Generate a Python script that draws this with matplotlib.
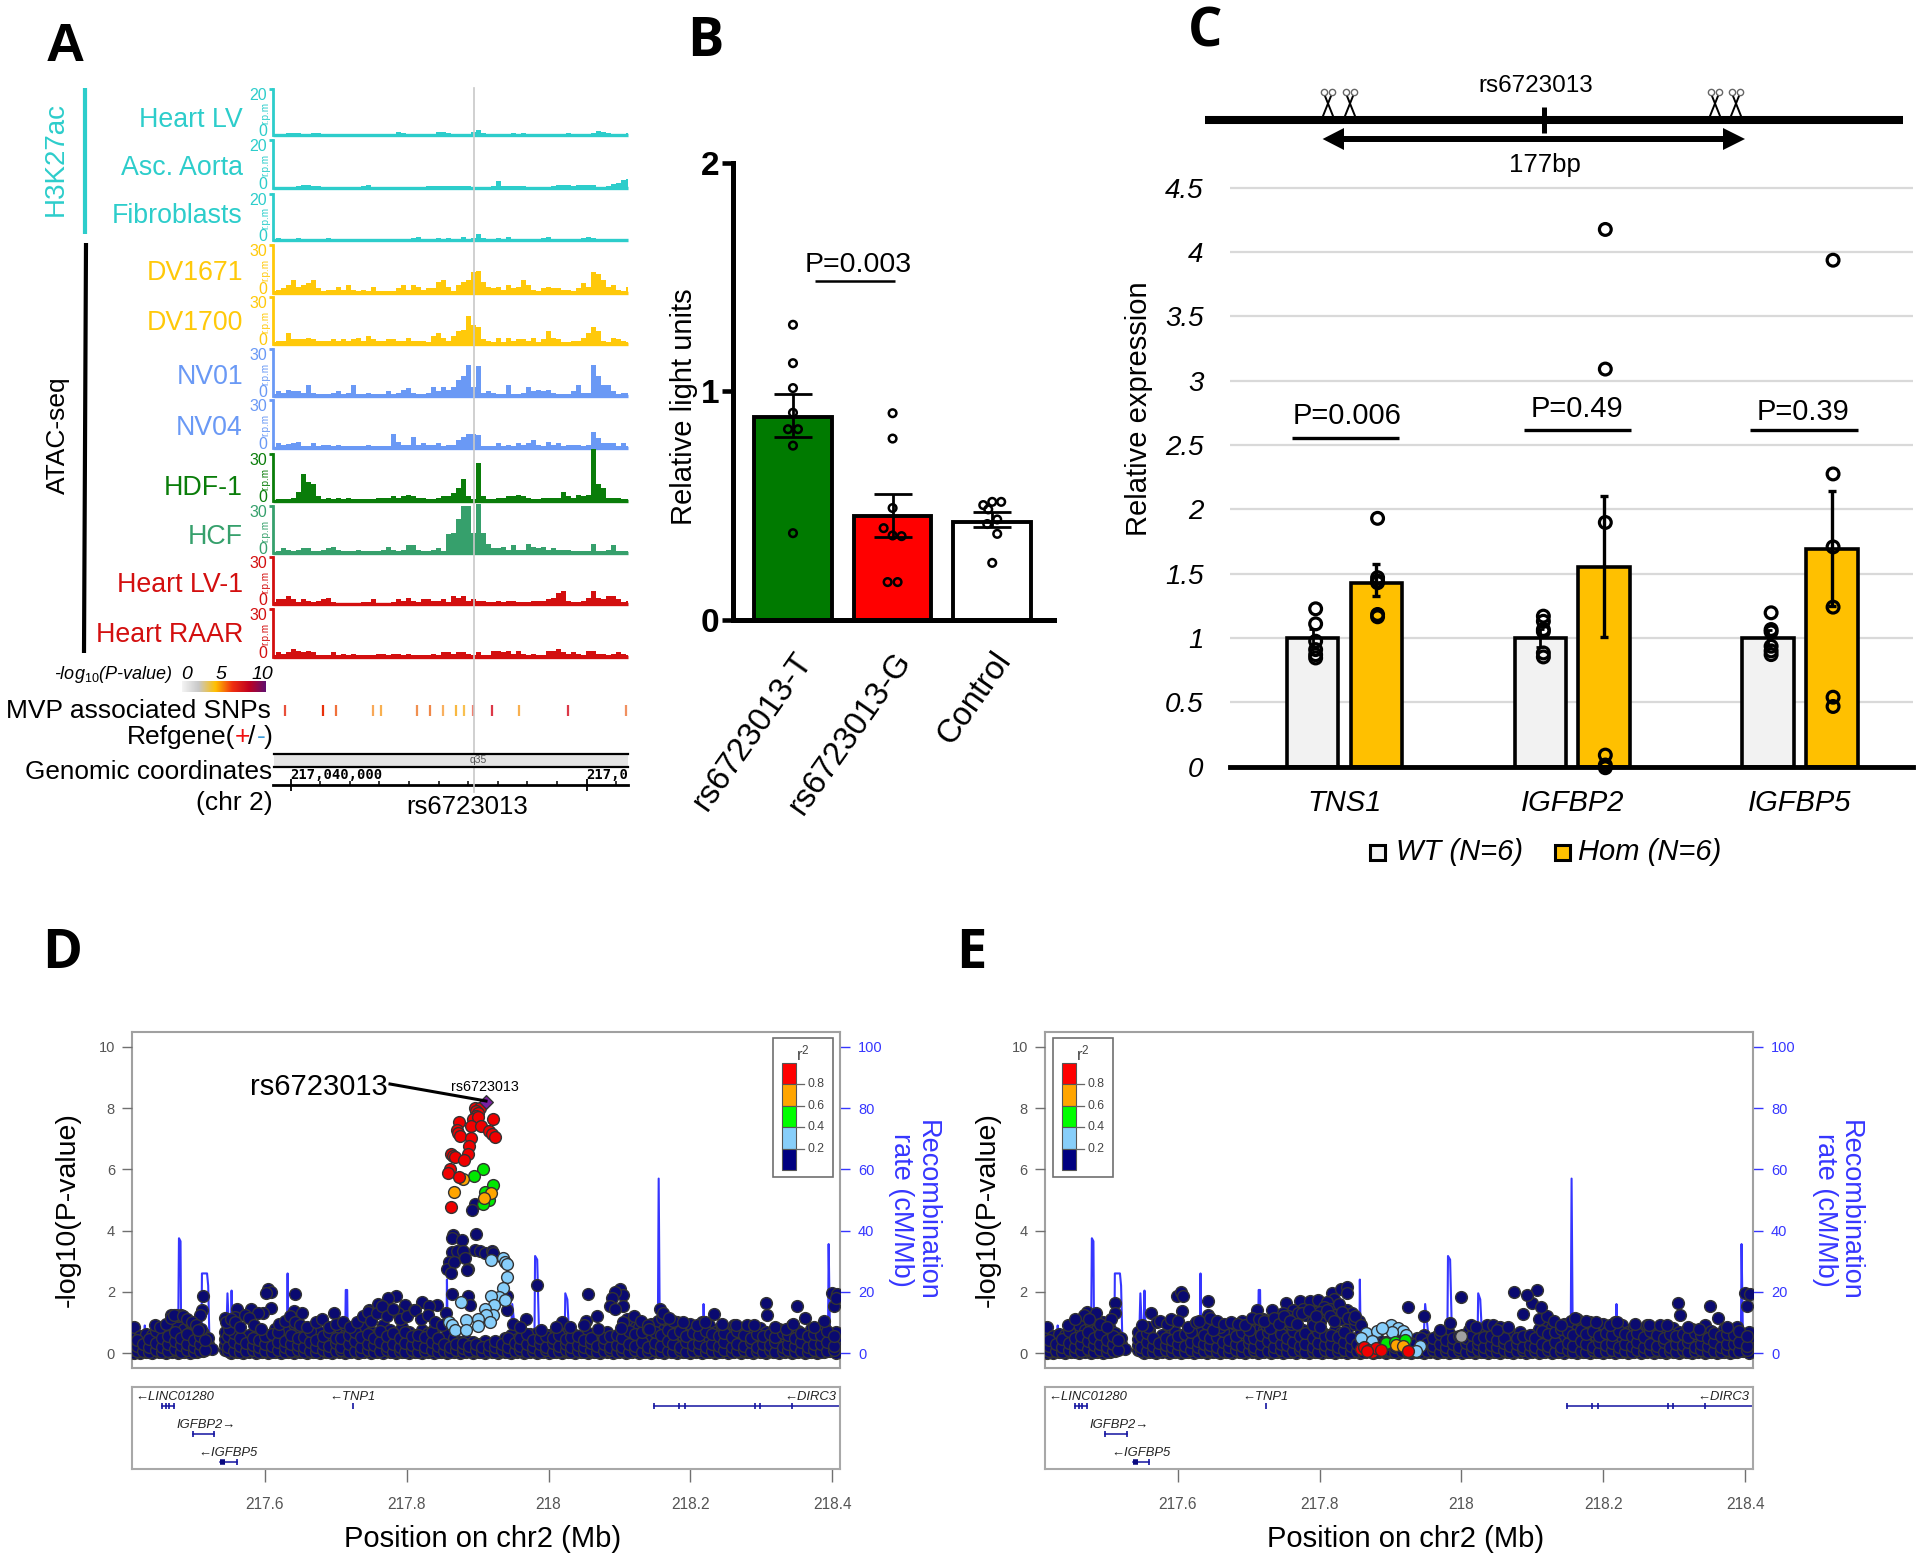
import numpy as np
import matplotlib
matplotlib.use("Agg")
import matplotlib.pyplot as plt
from matplotlib.colors import LinearSegmentedColormap
from matplotlib.patches import Polygon, Rectangle

plt.rcParams['font.family'] = ['Liberation Sans', 'DejaVu Sans']
plt.rcParams['mathtext.fontset'] = 'custom'
plt.rcParams['mathtext.rm'] = 'Liberation Sans'
plt.rcParams['mathtext.it'] = 'Liberation Sans:italic'
plt.rcParams['mathtext.default'] = 'it'

W, H = 1920, 1561

# panel A: signal per bin, r.p.m.
track_names = ["Heart LV", "Asc. Aorta", "Fibroblasts", "DV1671", "DV1700", "NV01", "NV04", "HDF-1", "HCF", "Heart LV-1", "Heart RAAR"]
track_scale = [20, 20, 20, 30, 30, 30, 30, 30, 30, 30, 30]
track_colors = ["#2DCDCB", "#2DCDCB", "#2DCDCB", "#FFC90A", "#FFC90A", "#6A99F5", "#6A99F5", "#0A7D0A", "#36A06C", "#D30F0F", "#D30F0F"]
track_top = [89, 140, 194, 245, 297, 349, 400, 454, 506, 557, 609]
track_base = [135, 188, 240, 293, 344, 396, 448, 501, 553, 604, 657]
heart_lv = [.3, .5, .6, .9, 1, .7, .3, .3, .7, .9, .5, .3, .2, .1, .3, .1, .4, .5, .3, .1, .1, .1, .4, .5, .6, 1.1, .9, .3, .1, .1, .1, .3, .5, 1.2, 1.2, .9, .2, .3, .2, .6, 1.3, 2.2, .7, .2, .1, .5, .6, .5, .7, .6, .8, .3, .1, .1, .1, .3, .4, .5, .6, .7, .3, .2, .5, .6, .9, 1.6, 1.4, .7, .5, .4, .6, 1]
asc_aorta = [.2, .3, .1, .3, .5, 1, 1.3, 1.1, .9, .7, .5, .4, .2, .1, .2, .3, .2, .6, 1, 1.2, .6, .3, .1, .1, .2, .3, .2, .1, .2, .2, .6, .8, 1, .9, 1, 1, .8, .7, .9, .7, .5, .4, .4, .2, 1, 3, 1, .9, 1, 1, 1, .5, .1, .1, .2, .1, 1, 1.2, 1.2, 1.2, 1, 1.1, 1.3, 1.2, 1.2, .6, .2, .8, 1.6, 2, 3.4, 3.6]
fibroblasts = [.2, .8, .5, .6, .3, .8, .3, .1, .1, .3, .6, .7, .2, .1, .1, .1, .1, .1, .1, .1, .3, .1, .3, .1, .1, .1, .1, .1, .7, 1.2, .5, .2, .6, .7, .4, .7, .3, .5, 1.1, .3, 1, 2.4, .7, .2, .2, .9, .3, 1.1, .2, .1, .1, .1, .1, .2, .9, 1.2, .5, .1, .3, .5, .2, .6, .9, 1.5, .9, .4, .6, .4, .5, .2, .1, .6]
dv1671 = [1, 2, 3, 5, 8, 4, 5, 6, 8, 3, 1, 2, 2, 4, 2, 5, 2, 1, 2, 1, 4, 1, 1, 1, 1, 3, 5, 2, 5, 4, 2, 3, 3, 7, 8, 4, 1, 5, 7, 8, 13, 14, 7, 4, 3, 4, 2, 5, 3, 4, 8, 5, 2, 1, 3, 4, 3, 3, 2, 2, 1, 3, 6, 4, 13, 12, 8, 4, 5, 2, 1, 4]
dv1700 = [1, 2, 2, 7, 3, 3, 3, 4, 3, 2, 2, 2, 3, 2, 3, 2, 3, 4, 2, 5, 3, 2, 2, 3, 3, 2, 2, 4, 2, 2, 2, 1, 5, 7, 4, 2, 5, 8, 9, 18, 12, 11, 3, 2, 1, 4, 1, 4, 2, 3, 3, 2, 4, 1, 3, 8, 4, 3, 1, 1, 2, 2, 4, 7, 11, 8, 2, 1, 4, 3, 2, 1]
nv01 = [1, 3, 2, 4, 3, 3, 2, 7, 2, 1, 1, 1, 2, 3, 1, 2, 7, 1, 1, 2, 1, 1, 1, 3, 1, 2, 4, 5, 2, 1, 1, 2, 6, 3, 6, 4, 6, 10, 13, 20, 6, 19, 2, 3, 2, 1, 1, 7, 1, 1, 2, 6, 3, 4, 3, 4, 2, 1, 1, 1, 3, 7, 2, 2, 20, 13, 7, 7, 3, 1, 2, 2]
nv04 = [.5, 3, 2, 2.5, 3, 4, 1, 1, 3, 1, 2, 2, 1, 2, 1, 1, 1, 1, 1, 2, 1, 1, 1, 1, 9, 4, 2, 2, 7, 2, 3, 2, 2, 3, 1, 2, 2, 5, 7, 9, 9, 8, 1, 1, 1, 3, 1, 2, 1, 3, 2, 3, 5, 2, 1, 4, 2, 3, 1, 2, 2, 2, 1, 2, 10, 6, 3, 3, 3, 1, 3, 1]
hdf1 = [.7, 1.5, 1, 1, 2, 6, 17, 12, 11, 3, 1, 2, 1, 2, 1, 2, 1, 1, 1, 1, 1, 2, 2, 2, 3, 2, 3, 4, 3, 2, 2, 1, 1, 2, 3, 3, 5, 8, 14, 3, 1, 24, 3, 1, 1, 2, 2, 3, 3, 4, 3, 2, 1, 1, 2, 2, 2, 2, 6, 3, 2, 4, 3, 4, 33, 11, 8, 2, 2, 2, 1, 1]
hcf = [.5, 1, 3, 2, 1, 2, 3, 3, 1, 1, 2, 3, 4, 2, 1, 1, 1, 2, 1, 1, 1, 1, 2, 4, 2, 1, 2, 5, 5, 2, 1, 1, 2, 3, 1, 12, 13, 22, 30, 30, 13, 31, 13, 6, 3, 3, 4, 2, 5, 2, 2, 6, 4, 3, 4, 2, 3, 2, 2, 2, 1, 1, 1, 1, 6, 1, 1, 2, 5, 1, 1, 1]
heart_lv1 = [1, 3, 3, 5, 3, 1, 3, 2, 1, 2, 3, 4, 1, .5, .5, .5, .5, .5, 1, 1, 3, .5, .5, .5, 1, 3, 2, 4, 2, 1, 3, 3, 2, 2, 3, 1, 5, 4, 5, 2, 3, 2, 2, 1, 1, 2, 1, 2, 2, 1, 1, 1, 2, 2, 2, 3, 4, 7, 8, 2, 1, 1, 2, 4, 8, 4, 3, 5, 5, 3, 1, 2]
heart_raar = [1, 3, 2, 3, 5, 4, 3, 4, 3, 1, 1, 1, 3, 1, 2, 1, 2, 1, 1, 1, 1, 2, 2, 1, 2, 2, 1, 2, 1, 1, 1, 1, 2, 1, 3, 3, 2, 3, 3, 2, 1, 3, 1, 1, 4, 4, 3, 4, 2, 4, 2, 1, 2, 1, 1, 4, 4, 5, 3, 2, 3, 2, 1, 4, 4, 2, 2, 1, 2, 3, 2, 1]
tracks = [heart_lv, asc_aorta, fibroblasts, dv1671, dv1700, nv01, nv04, hdf1, hcf, heart_lv1, heart_raar]
track_label_y = [120, 168, 216, 273, 323, 377, 428, 488, 537, 585, 635]

# kb after 217,040,000
view_kb = (-0.594, 11.395)
snp_kb = [-0.2, 1.1, 1.52, 2.8, 3.04, 4.28, 4.72, 5.15, 5.6, 5.84, 6.17, 6.8, 7.7, 9.38, 11.32]
snp_colors = ["#E8503A", "#E8300A", "#F0703A", "#F8A858", "#F8B050", "#F09050", "#F08848", "#F8B060", "#F8B840", "#F8C050", "#F08070", "#DC3848", "#F8B050", "#DC3848", "#F09060"]
major_kb = [0, 10]
minor_kb = [1, 2, 3, 4, 5, 6, 7, 8, 9, 11]

# panel B
b_names = ["rs6723013-T", "rs6723013-G", "Control"]
b_means = [0.89, 0.453, 0.431]
b_err_lo = [0.80, 0.365, 0.406]
b_err_hi = [0.99, 0.552, 0.472]
b_colors = ["#007A00", "#FF0000", "#FFFFFF"]
b_pts_x = [[0, 0, 0, 0, -.05, .05, 0, 0], [0, 0, 0, -.09, 0, .09, -.05, .05], [0, .09, -.09, -.04, .05, -.05, .05, 0]]
b_pts_y = [[1.292, 1.124, 1.015, .907, .835, .835, .763, .38], [.905, .794, .49, .402, .37, .367, .166, .166], [.517, .517, .503, .484, .44, .42, .377, .25]]

# panel C
c_genes = ["TNS1", "IGFBP2", "IGFBP5"]
c_yticks = [0, 0.5, 1, 1.5, 2, 2.5, 3, 3.5, 4, 4.5]
c_yticklabels = ["0", "0.5", "1", "1.5", "2", "2.5", "3", "3.5", "4", "4.5"]
c_wt = [1, 1, 1]
c_hom = [1.43, 1.55, 1.695]
c_wt_lo = [.93, .93, .94]
c_wt_hi = [1.07, 1.07, 1.06]
c_hom_lo = [1.326, 1.009, 1.25]
c_hom_hi = [1.573, 2.10, 2.145]
c_wt_pts = [[1.227, 1.11, .975, .91, .87, .845], [1.17, 1.13, 1.066, 1.05, .884, .853], [1.196, 1.066, 1.048, .936, .9, .871]]
c_hom_pts = [[1.93, 1.469, 1.443, 1.43, 1.183, 1.165], [4.175, 3.09, 1.898, .09, .013, -.008], [3.936, 2.275, 1.708, 1.24, .54, .468]]
c_pvals = ["P=0.006", "P=0.49", "P=0.39"]

# panels D and E: recombination rate
recomb_x = [217.412, 217.413, 217.4295, 217.4306, 217.432, 217.4775, 217.4788, 217.481, 217.482, 217.5105, 217.5112, 217.5184, 217.520, 217.522, 217.525, 217.545, 217.5472, 217.549, 217.552, 217.553, 217.555, 217.558, 217.631, 217.632, 217.633, 217.713, 217.714, 217.716, 217.717, 217.856, 217.8567, 217.858, 217.946, 217.9488, 217.955, 217.980, 217.981, 217.984, 217.987, 218.0225, 218.0236, 218.0265, 218.03, 218.154, 218.1553, 218.157, 218.218, 218.2186, 218.22, 218.394, 218.395, 218.397, 218.411]
recomb_y = [10, 1, 1, 9, 1, 1, 37.5, 36.5, 1, 1, 26, 26, 22, 2, 1, .5, 19.5, 9, 9, 20.4, 3, .5, 1, 26, 2, 1, 20.6, 20.6, 1, 1, 24, 2, 1, 16, 2, 1, 31.7, 30.5, 2, 1, 19.5, 17.5, 1, 1, 57, 2, 1, 16, 1, 1, 35.6, 4, 1]
rate_ticks = [0, 20, 40, 60, 80, 100]

# low cloud, both panels, one list of -log10(p) for each x
cloud_x = [217.415, 217.424, 217.432, 217.441, 217.45, 217.46, 217.469, 217.477, 217.486, 217.495, 217.504, 217.512, 217.52, 217.526, 217.544, 217.552, 217.56, 217.569, 217.578, 217.587, 217.596, 217.605, 217.614, 217.623, 217.632, 217.641, 217.65, 217.659, 217.668, 217.677, 217.686, 217.695, 217.704, 217.713, 217.722, 217.731, 217.74, 217.749, 217.758, 217.767, 217.776, 217.785, 217.794, 217.803, 217.812, 217.821, 217.83, 217.839, 217.848, 217.857, 217.866, 217.875, 217.884, 217.893, 217.902, 217.911, 217.92, 217.929, 217.938, 217.947, 217.956, 217.965, 217.974, 217.983, 217.992, 218.001, 218.01, 218.019, 218.028, 218.037, 218.046, 218.055, 218.064, 218.073, 218.082, 218.091, 218.1, 218.109, 218.118, 218.127, 218.136, 218.145, 218.154, 218.163, 218.172, 218.181, 218.19, 218.199, 218.208, 218.217, 218.226, 218.235, 218.244, 218.253, 218.262, 218.271, 218.28, 218.289, 218.298, 218.307, 218.316, 218.325, 218.334, 218.343, 218.352, 218.361, 218.37, 218.379, 218.388, 218.397, 218.406]
cloud_y = [
    [0, .1, .25, .4, .6, .85], [0, .05, .2, .35, .55], [.02, .15, .3, .5, .62], [0, .12, .25, .4, .58], [.03, .1, .3, .45, .7], [0, .15, .3, .5, .62, .9], [.02, .1, .25, .42, .75], [0, .08, .2, .4, .6, .95, 1.2], [.03, .18, .35, .55, .8], [0, .1, .25, .45, .7, 1],
    [.02, .12, .3, .5, .78], [.05, .2, .35, .5, .65], [.15, .3, .5], [.12], [.1, .25, .45, .7], [0, .12, .3, .5, .8], [.03, .2, .35, .6, .75], [0, .1, .28, .45], [.02, .18, .4, .6], [0, .1, .22, .4, .55], [.03, .15, .35, .5, .7], [0, .12, .25, .45, .6], [.02, .1, .3, .5, .8], [0, .15, .32, .55, .9], [.03, .12, .25, .45, .75], [0, .08, .2, .35, .6, .95],
    [.02, .15, .3, .5, .72], [0, .1, .25, .42, .62], [.03, .18, .33, .55, .8], [0, .12, .28, .48, .68], [.02, .1, .22, .4, .6], [0, .15, .35, .55, .85], [.03, .12, .25, .45, .7], [0, .08, .2, .38, .6, .9], [.02, .15, .3, .52, .78], [0, .1, .25, .42, .65], [.03, .18, .36, .55, .82], [0, .12, .28, .46, .7], [.02, .1, .22, .4, .62], [0, .15, .33, .55, .9],
    [.03, .12, .27, .48, .75], [0, .08, .2, .38, .6], [.02, .16, .32, .52, .85], [0, .1, .25, .44, .68], [.03, .18, .36, .58], [0, .12, .28, .46, .75], [.02, .1, .24, .42, .66], [0, .14, .32, .5, .8], [.03, .11, .26, .46], [0, .08, .22, .4, .62], [.02, .16, .3, .5], [0, .1, .2, .35], [.03, .13, .26, .42], [0, .08, .2, .36], [.02, .15, .28], [0, .1, .22, .38], [.03, .12, .25], [0, .08, .2, .34], [.02, .15, .3, .5], [0, .1, .25, .4, .6],
    [.03, .12, .28, .45], [0, .08, .2, .38, .55], [.02, .14, .3, .5, .62], [0, .1, .24, .42, .65], [.03, .18, .35, .52], [0, .1, .22, .4, .6], [.02, .12, .3, .48, .75], [0, .08, .2, .36, .55], [.03, .15, .3, .5, .7], [0, .1, .25, .42, .6], [.02, .12, .28, .46], [0, .08, .22, .4, .65], [.03, .14, .32, .52], [0, .1, .24, .38, .6], [.02, .16, .3, .45, .7], [0, .12, .25, .42], [.03, .1, .22, .4, .58], [0, .14, .3, .5, .8], [.02, .1, .26, .45, .7, 1], [0, .12, .28, .48, .85],
    [.03, .1, .24, .42, .9], [0, .14, .32, .55, .95], [.02, .1, .25, .45, .75, 1.05], [0, .12, .3, .5, .8, 1.1], [.03, .15, .35, .6, .9], [0, .1, .25, .45, .7, 1.02], [.02, .12, .3, .55, .85], [0, .08, .22, .4, .65, .95], [.03, .14, .32, .52, .8], [0, .1, .24, .42, .72, 1], [.02, .12, .3, .5, .9], [0, .08, .22, .4, .7], [.03, .15, .35, .55, .85], [0, .1, .25, .46, .78], [.02, .12, .3, .5, .9], [0, .08, .2, .38, .66], [.03, .14, .32, .55, .88], [0, .1, .24, .44, .7], [.02, .12, .3, .5, .82], [0, .08, .22, .4, .68],
    [.03, .15, .33, .55], [0, .1, .24, .42, .78], [.02, .12, .3, .5, .7], [0, .08, .2, .38, .9], [.03, .14, .3, .5, .72], [0, .1, .25, .44, .6], [.02, .12, .3, .5, .78], [0, .08, .22, .42, .72], [.03, .15, .35, .55, .85], [.05, .2, .4, .62], [0, .15, .3, .5, .68]]

# second pass of the cloud, points that sit between the first columns
cloud2_x = [217.419, 217.428, 217.437, 217.446, 217.455, 217.464, 217.473, 217.482, 217.49, 217.5, 217.508, 217.516, 217.548, 217.556, 217.565, 217.574, 217.583, 217.592, 217.6, 217.61, 217.618, 217.628, 217.637, 217.646, 217.655, 217.664, 217.672, 217.682, 217.69, 217.7, 217.708, 217.718, 217.727, 217.736, 217.745, 217.754, 217.762, 217.772, 217.78, 217.79, 217.798, 217.808, 217.816, 217.826, 217.835, 217.844, 217.852, 217.861, 217.87, 217.88, 217.888, 217.898, 217.906, 217.916, 217.925, 217.934, 217.943, 217.952, 217.96, 217.97, 217.978, 217.988, 217.996, 218.006, 218.015, 218.024, 218.032, 218.042, 218.05, 218.06, 218.068, 218.078, 218.087, 218.096, 218.104, 218.114, 218.122, 218.132, 218.14, 218.15, 218.158, 218.168, 218.176, 218.186, 218.194, 218.204, 218.212, 218.222, 218.23, 218.24, 218.248, 218.258, 218.266, 218.276, 218.285, 218.294, 218.302, 218.312, 218.32, 218.33, 218.338, 218.348, 218.356, 218.366, 218.374, 218.384, 218.392, 218.402]
cloud2_y = [
    [.05, .22, .42], [.08, .3], [.03, .18, .45], [.1, .33, .72], [.02, .2, .48], [.06, .28, .55], [.12, .38, .68], [.04, .25, .5], [.1, .3, .62], [.02, .2, .42], [.08, .28, .55], [.1, .42], [.05, .2, .55], [.08, .35, .65], [.02, .24, .5], [.06, .32], [.1, .26, .5], [.03, .18, .42], [.07, .28, .55], [.04, .22, .62], [.1, .36, .68], [.02, .2, .4], [.06, .3, .58], [.1, .26, .48], [.03, .18, .52], [.07, .35, .72], [.04, .2, .44], [.09, .3, .55], [.02, .24, .7], [.06, .33, .5], [.1, .2, .48], [.03, .28, .6], [.07, .38, .7], [.04, .18, .52], [.09, .3, .62], [.02, .26, .48], [.06, .35, .72], [.1, .22, .55], [.03, .3, .65], [.07, .2, .48], [.04, .33, .7], [.09, .25, .55], [.02, .3, .6], [.06, .2, .52], [.1, .36, .7], [.03, .22, .5], [.07, .3], [.04, .18], [.09, .28], [.02, .16, .34], [.06, .24], [.1, .3], [.03, .18], [.07, .26], [.04, .18, .4], [.09, .3], [.02, .2, .48], [.06, .33], [.1, .24, .5], [.03, .3, .62], [.07, .18, .42], [.04, .28, .5], [.09, .2, .56], [.02, .33, .48], [.06, .24, .58], [.1, .3, .45], [.03, .18, .52], [.07, .26, .55], [.04, .2, .42], [.09, .33, .5], [.02, .24], [.06, .3, .48], [.1, .2, .55], [.03, .26, .6], [.07, .18, .5], [.04, .3, .72], [.09, .24, .62], [.02, .36, .68], [.06, .2, .8], [.1, .33, .7], [.03, .24, .58], [.07, .4, .75], [.04, .28, .62], [.09, .2, .72], [.02, .36, .55], [.06, .26, .66], [.1, .33, .58], [.03, .2, .72], [.07, .3, .62], [.04, .24, .55], [.09, .36, .66], [.02, .2, .52], [.06, .3, .72], [.1, .24, .6], [.03, .36, .5], [.07, .2, .62], [.04, .3, .55], [.09, .26, .62], [.02, .36, .52], [.06, .2, .66], [.1, .3, .58], [.03, .24, .48], [.07, .36, .66], [.04, .2, .55], [.09, .3, .62], [.02, .28, .58], [.06, .36, .72], [.1, .24, .55]]

# right part of the cloud's upper edge, both panels
cloud_hi_x = [218.11, 218.12, 218.13, 218.14, 218.16, 218.175, 218.19, 218.21, 218.22, 218.245, 218.265, 218.28, 218.29, 218.32, 218.335, 218.375]
cloud_hi_y = [1.1, 1.2, 1.05, .9, 1.15, 1.05, 1.0, .9, 1.0, .95, .9, .9, .9, .85, .8, .85]

# points above the cloud, panel D
d_navy_x = [217.896, 217.892, 217.865, 217.864, 217.878, 217.898, 217.864, 217.871, 217.880, 217.896, 217.903, 217.911, 217.920, 217.921, 217.860, 217.857, 217.867, 217.882, 217.887, 217.863, 217.885, 217.864, 217.887, 217.889, 217.942, 217.941, 217.856, 217.983, 218.055, 218.101, 218.105, 218.093, 218.090, 218.105, 218.087, 218.094, 218.069, 218.105, 218.019, 218.053, 218.142, 218.102, 218.306, 218.308, 218.351, 218.362, 218.345, 218.400, 218.407, 218.402, 218.406, 218.388, 218.234, 218.157, 218.162, 218.170, 217.968, 217.605, 217.608, 217.601, 217.643, 217.512, 217.511, 217.508, 217.561, 217.544, 217.558, 217.475, 217.468, 217.482, 217.580, 217.608, 217.597, 217.590, 217.572, 217.641, 217.652, 217.698, 217.747, 217.798, 217.785, 217.773, 217.760, 217.821, 217.842, 217.831, 217.810, 217.788,
            217.445, 217.452, 217.46, 217.468, 217.472, 217.484, 217.49, 217.497, 217.503, 217.51, 217.505, 217.55, 217.545, 217.552, 217.558, 217.565, 217.578, 217.585, 217.595, 217.62, 217.628, 217.635, 217.642, 217.65, 217.66, 217.672, 217.68, 217.69, 217.70, 217.71, 217.72, 217.73, 217.738, 217.745, 217.75, 217.758, 217.765, 217.772, 217.78, 217.79, 217.80, 217.812, 217.82, 217.83, 217.84, 217.85, 217.95, 217.96, 217.99, 218.01, 218.03, 218.05, 218.07]
d_navy_y = [4.87, 4.66, 3.85, 3.75, 3.7, 3.88, 3.3, 3.33, 3.33, 3.36, 3.34, 3.28, 3.34, 3.28, 2.98, 2.76, 2.98, 3.1, 2.76, 2.6, 2.71, 1.92, 1.87, 1.57, 1.87, 1.41, 1.3, 2.22, 1.93, 2.08, 1.9, 2.0, 1.79, 1.52, 1.54, 1.43, 1.21, 1, 1, 1.03, .78, .81, 1.63, 1.25, 1.52, 1.16, .94, 1.95, 1.93, 1.55, 1.79, 1.06, 1.27, 1.43, 1.3, 1.14, 1.12, 2.08, 2.0, 1.95, 1.93, 1.87, 1.41, 1.25, 1.43, 1.14, 1.19, 1.25, 1.24, 1.25, 1.43, 1.46, 1.32, 1.3, 1.25, 1.36, 1.3, 1.32, 1.39, 1.57, 1.87, 1.79, 1.6, 1.66, 1.57, 1.52, 1.41, 1.3,
            .9, .85, .95, 1.15, 1.25, 1.2, 1.1, 1.0, .9, .8, .75, .8, 1.0, 1.1, 1.0, .85, 1.15, .9, .8, .95, 1.05, 1.2, 1.0, .9, .85, 1.0, 1.1, .85, .95, 1.0, .85, 1.0, 1.2, 1.35, 1.05, 1.3, 1.55, 1.2, 1.45, 1.1, 1.2, 1.4, 1.1, 1.25, 1.0, .9, .95, .85, .75, .85, .85, .9, .8]
d_blue_x = [217.919, 217.936, 217.938, 217.941, 217.942, 217.936, 217.930, 217.919, 217.938, 217.923, 217.911, 217.877, 217.921, 217.912, 217.901, 217.917, 217.859, 217.864, 217.883, 217.900, 217.868, 217.883]
d_blue_y = [3.05, 3.1, 2.98, 2.9, 2.5, 2.12, 1.84, 1.87, 1.73, 1.57, 1.44, 1.66, 1.25, 1.25, 1.12, 1, 1, .92, 1.08, .87, .76, .76]
d_green_x = [217.907, 217.895, 217.921, 217.911, 217.916, 217.908]
d_green_y = [6, 5.8, 5.5, 5.27, 5, 4.87]
d_orange_x = [217.880, 217.867, 217.919, 217.909]
d_orange_y = [5.68, 5.27, 5.22, 5.08]
d_red_x = [217.896, 217.903, 217.898, 217.901, 217.898, 217.893, 217.901, 217.921, 217.874, 217.891, 217.905, 217.916, 217.871, 217.873, 217.920, 217.924, 217.875, 217.890, 217.888, 217.887, 217.862, 217.865, 217.868, 217.881, 217.861, 217.858, 217.874, 217.862]
d_red_y = [8, 8, 7.9, 7.85, 7.75, 7.64, 7.72, 7.66, 7.56, 7.42, 7.41, 7.26, 7.28, 7.2, 7.15, 7.07, 7.1, 7.04, 6.75, 6.5, 6.5, 6.45, 6.4, 6.32, 6, 5.87, 5.74, 4.78]
d_lead_x = [217.912]
d_lead_y = [8.2]

# points above the cloud, panel E
e_navy_x = [217.512, 217.5116, 217.5055, 217.4726, 217.4844, 217.468, 217.562, 217.5586, 217.5995, 217.605, 217.608, 217.6066, 217.643, 217.642, 217.712, 217.7335, 217.752, 217.773, 217.786, 217.797, 217.817, 217.83, 217.838, 217.839, 217.838, 217.794, 217.776, 217.762, 217.748, 217.82, 217.811, 217.806, 217.825, 217.856, 217.925, 217.947, 218.0, 217.984, 218.013, 218.036, 218.074, 218.087, 218.1, 218.045, 218.055, 218.107, 218.112, 218.092, 218.306, 218.308, 218.351, 218.362, 218.400, 218.407, 218.402, 217.68, 217.69, 217.70, 217.72, 217.725, 217.74, 217.745, 217.755, 217.765, 217.77, 217.78, 217.79, 217.80, 217.805, 217.815, 217.822, 217.83, 217.845, 217.85, 217.70, 217.73, 217.76, 217.80, 217.66, 217.65,
            217.445, 217.455, 217.475, 217.49, 217.50, 217.55, 217.57, 217.575, 217.585, 217.59, 217.60, 217.615, 217.625, 217.63, 217.645, 217.655, 217.665, 217.675, 217.685, 217.695, 217.705, 217.715, 217.722, 217.735, 217.742, 217.75, 217.758, 217.768, 217.775, 217.785, 217.79, 217.795, 217.80, 217.81, 217.815, 217.82, 217.828, 217.832, 217.84, 217.848, 217.85, 217.858, 217.97, 218.02, 218.05, 218.065]
e_navy_y = [1.62, 1.3, 1.1, 1.35, 1.3, 1.24, 1.3, .86, 1.86, 2.0, 1.86, 1.38, 1.7, 1.24, 1.4, 1.4, 1.62, 1.7, 1.7, 1.73, 1.95, 2.08, 2.16, 1.95, 1.4, 1.35, 1.44, 1.4, 1.3, 1.78, 1.68, 1.5, 1.24, 1.05, 1.51, 1.21, 1.82, .97, .92, .92, 2.0, 1.26, 1.64, .9, .85, 2.05, 1.5, 1.9, 1.63, 1.25, 1.52, 1.16, 1.95, 1.93, 1.55, .95, 1.05, .95, 1.1, .9, 1.05, 1.15, 1.2, 1.1, 1.3, 1.25, 1.05, 1.35, 1.2, 1.45, 1.25, 1.1, 1.3, .95, .75, .82, .95, 1.0, .85, .75,
            .9, 1.1, 1.1, .95, .85, .9, 1.0, 1.05, .95, 1.1, 1.05, .85, 1.0, 1.05, 1.15, 1.05, .95, 1.0, .95, .9, 1.15, 1.1, 1.05, 1.15, .95, 1.2, 1.05, .95, 1.3, 1.4, .9, 1.2, .85, 1.4, 1.2, 1.05, 1.6, 1.35, 1.15, 1.1, 1.2, .9, .75, .85, .75, .85]
e_blue_x = [217.865, 217.8815, 217.858, 217.9, 217.91, 217.917, 217.9215, 217.8745, 217.9027, 217.9417, 217.9356, 217.8886]
e_blue_y = [.67, .73, .49, .92, .81, .73, .59, .38, .7, .24, .05, .82]
e_green_x = [217.893, 217.906, 217.9205]
e_green_y = [.32, .36, .43]
e_orange_x = [217.908, 217.918]
e_orange_y = [.27, .24]
e_red_x = [217.858, 217.8627, 217.87, 217.8745, 217.879, 217.887, 217.924, 217.8675]
e_red_y = [.13, .2, .1, .02, .16, .09, .05, .05]
e_gray_x = [218.0]
e_gray_y = [.57]

# genes
gene_lines = [(217.455, 217.472, 1), (217.7245, 217.7245, 1), (218.149, 218.411, 1), (217.498, 217.528, 2), (217.5367, 217.56, 3)]
gene_exons_x = [217.455, 217.46, 217.465, 217.472, 217.7245, 218.149, 218.184, 218.192, 218.2906, 218.298, 218.343, 217.498, 217.528, 217.56]
gene_exons_row = [1, 1, 1, 1, 1, 1, 1, 1, 1, 1, 1, 2, 2, 3]
gene_names = ["\u2190LINC01280", "\u2190TNP1", "\u2190DIRC3", "IGFBP2\u2192", "\u2190IGFBP5"]
gene_name_x = [217.417, 217.691, 218.406, 217.475, 217.506]
gene_name_row = [1, 1, 1, 2, 3]
gene_name_ha = ["left", "left", "right", "left", "left"]
mb_ticks = [217.6, 217.8, 218.0, 218.2, 218.4]
mb_labels = ["217.6", "217.8", "218", "218.2", "218.4"]


def px_axes(x0, y0, x1, y1, **kw):
    return fig.add_axes([x0 / W, 1 - y1 / H, (x1 - x0) / W, (y1 - y0) / H], **kw)


fig = plt.figure(figsize=(W / 100, H / 100), dpi=100)
ov = px_axes(0, 0, W, H, zorder=20)
ov.set_xlim(0, W)
ov.set_ylim(H, 0)
ov.axis("off")
ov.patch.set_alpha(0)

for label, x, y, fam in [("A", 65, 47, "Liberation Sans"), ("B", 705, 42, "Open Sans"), ("C", 1205, 32, "Open Sans"), ("D", 62, 954, "Open Sans"), ("E", 971, 954, "Open Sans")]:
    ov.text(x, y, label, fontsize=39, fontweight="bold", ha="center", va="center", family=fam)

# ---- panel A
for i, vals in enumerate(tracks):
    ax = px_axes(273, track_top[i], 628, track_base[i])
    c = track_colors[i]
    x = np.linspace(view_kb[0], view_kb[1], len(vals))
    ax.fill_between(x, vals, 0, step="mid", color=c, lw=0, clip_on=False)
    ax.plot(view_kb, [0, 0], color=c, lw=2.4, solid_capstyle="butt", clip_on=False)
    ax.set_xlim(view_kb)
    ax.set_ylim(0, track_scale[i])
    for s in ["top", "right", "bottom"]:
        ax.spines[s].set_visible(False)
    ax.spines["left"].set_color(c)
    ax.spines["left"].set_linewidth(2)
    ax.set_xticks([])
    ax.set_yticks([track_scale[i]])
    ax.set_yticklabels([])
    ax.tick_params(axis="y", length=3, width=2, color=c)
    ax.patch.set_alpha(0)
    ov.text(243, track_label_y[i], track_names[i], color=c, fontsize=19.3, ha="right", va="center")
    ov.text(267, track_top[i] + 6, str(track_scale[i]), color=c, fontsize=11.5, ha="right", va="center")
    ov.text(267, track_base[i] - 4, "0", color=c, fontsize=11.5, ha="right", va="center")
    ov.text(265, (track_top[i] + track_base[i]) / 2 + 1, "r.p.m", color=c, fontsize=7.2, rotation=90, ha="center", va="center")

ov.plot([84.5, 84.5], [88, 234], color="#2DCDCB", lw=3, solid_capstyle="butt")
ov.plot([86, 84], [243, 653], color="black", lw=3, solid_capstyle="butt")
ov.text(56, 159, "H3K27ac", color="#2DCDCB", fontsize=20, rotation=90, ha="center", va="center")
ov.text(58, 435, "ATAC-seq", color="black", fontsize=19, rotation=90, ha="center", va="center")

cmap = LinearSegmentedColormap.from_list("mvp", ["#F4F4F4", "#C8C8C8", "#FFC000", "#F03010", "#C00020", "#601070"])
cbar = px_axes(182.4, 681, 266, 692)
cbar.imshow(np.linspace(0, 1, 256)[None, :], aspect="auto", cmap=cmap)
cbar.axis("off")
ov.text(173, 674, r"-log$_{10}$(P-value)", fontsize=13, style="italic", ha="right", va="center")
for t, x in zip(["0", "5", "10"], [187, 221, 262]):
    ov.text(x, 674, t, fontsize=14, style="italic", ha="center", va="center")

snp_ax = px_axes(273, 705, 628, 716)
snp_ax.vlines(snp_kb, 0, 1, colors=snp_colors, lw=1.6)
snp_ax.set_xlim(view_kb)
snp_ax.set_ylim(0, 1)
snp_ax.axis("off")

ov.text(270.6, 711, "MVP associated SNPs", fontsize=19, ha="right", va="center")
ov.text(235, 737, "Refgene(", fontsize=19, ha="right", va="center")
ov.text(235, 737, "+", fontsize=19, color="#F01010", ha="left", va="center")
ov.text(248, 737, "/", fontsize=19, ha="left", va="center")
ov.text(257, 737, "-", fontsize=19, color="#3A9AD9", ha="left", va="center")
ov.text(264, 737, ")", fontsize=19, ha="left", va="center")
ov.text(272.6, 772, "Genomic coordinates", fontsize=18.8, ha="right", va="center")
ov.text(273, 803, "(chr 2)", fontsize=19, ha="right", va="center")

ov.add_patch(Rectangle((274, 754), 354, 12.5, facecolor="#E4E4E4", edgecolor="none"))
ov.plot([274, 628], [754, 754], color="black", lw=1.6)
ov.plot([274, 628], [766.5, 766.5], color="black", lw=1.6)
ov.text(478, 760, "q35", fontsize=7.5, color="#555555", ha="center", va="center")

ruler = px_axes(273, 772, 628, 785)
ruler.set_xlim(view_kb)
ruler.set_ylim(0, 1)
ruler.set_xticks(major_kb)
ruler.set_xticks(minor_kb, minor=True)
ruler.set_xticklabels([])
ruler.set_yticks([])
ruler.tick_params(axis="x", which="major", direction="inout", length=8, width=1.3)
ruler.tick_params(axis="x", which="minor", direction="in", length=3, width=1.1)
for s in ["top", "left", "right"]:
    ruler.spines[s].set_visible(False)
ruler.spines["bottom"].set_linewidth(2)
ruler.patch.set_alpha(0)
ov.text(290, 775, "217,040,000", family="DejaVu Sans Mono", fontweight="bold", fontsize=10, ha="left", va="center")
ov.text(586, 775, "217,0", family="DejaVu Sans Mono", fontweight="bold", fontsize=10, ha="left", va="center")

ov.plot([473.5, 473.5], [88, 792], color="#C8C8C8", lw=1.2, zorder=0)
ov.text(467, 807, "rs6723013", fontsize=18.5, ha="center", va="center")

# ---- panel B
axb = px_axes(733, 163, 1054, 620)
axb.bar(range(3), b_means, width=0.778, color=b_colors, edgecolor="black", lw=2.8, zorder=2)
for i in range(3):
    axb.errorbar(i, b_means[i], yerr=[[b_means[i] - b_err_lo[i]], [b_err_hi[i] - b_means[i]]], color="black", lw=2, capsize=14, capthick=2, zorder=3)
    axb.scatter(np.array(b_pts_x[i]) + i, b_pts_y[i], s=30, facecolor="none", edgecolor="black", lw=1.8, zorder=4, clip_on=False)
axb.set_xlim(-0.602, 2.62)
axb.set_ylim(0, 2)
axb.set_yticks([0, 1, 2])
axb.set_yticklabels(["0", "1", "2"], fontsize=24, fontweight="bold")
axb.set_xticks(range(3))
axb.set_xticklabels(b_names, fontsize=23.5, rotation=55, ha="right", va="top", rotation_mode="anchor")
axb.tick_params(axis="y", length=8, width=3.3, pad=2)
axb.tick_params(axis="x", length=0, pad=19)
for s in ["top", "right"]:
    axb.spines[s].set_visible(False)
axb.spines["left"].set_linewidth(3.6)
axb.spines["bottom"].set_linewidth(3.6)
ov.text(684, 407, "Relative light units", fontsize=21, rotation=90, ha="center", va="center")
ov.text(858, 265, "P=0.003", fontsize=20.5, ha="center", va="center")
ov.plot([815, 895], [281, 281], color="black", lw=1.8, solid_capstyle="butt")

# ---- panel C
axc = px_axes(1230, 170, 1913, 766.7)
axc.set_axisbelow(True)
offset = 0.14
width = 0.226
axc.bar(np.arange(3) - offset, c_wt, width=width, color="#F2F2F2", edgecolor="black", lw=2.6, zorder=2)
axc.bar(np.arange(3) + offset, c_hom, width=width, color="#FFC000", edgecolor="black", lw=2.6, zorder=2)
for i in range(3):
    axc.errorbar(i - offset, c_wt[i], yerr=[[c_wt[i] - c_wt_lo[i]], [c_wt_hi[i] - c_wt[i]]], color="black", lw=2, capsize=3, capthick=2, zorder=3)
    axc.errorbar(i + offset, c_hom[i], yerr=[[c_hom[i] - c_hom_lo[i]], [c_hom_hi[i] - c_hom[i]]], color="black", lw=2.4, capsize=3, capthick=2.4, zorder=3)
    axc.scatter([i - offset + 0.013] * 6, c_wt_pts[i], s=72, facecolor="none", edgecolor="black", lw=2.3, zorder=4, clip_on=False)
    axc.scatter([i + offset + 0.005] * 6, c_hom_pts[i], s=72, facecolor="none", edgecolor="black", lw=2.3, zorder=4, clip_on=False)
axc.set_xlim(-0.503, 2.496)
axc.set_ylim(0, 4.637)
axc.set_yticks(c_yticks)
axc.set_yticklabels(c_yticklabels, fontsize=20, style="italic")
axc.set_xticks(range(3))
axc.set_xticklabels(c_genes, fontsize=21, style="italic")
axc.tick_params(axis="y", length=0, pad=19)
axc.tick_params(axis="x", length=0, pad=16)
axc.grid(True, axis="y", color="#D9D9D9", lw=1.6)
for s in ["top", "right", "left"]:
    axc.spines[s].set_visible(False)
axc.spines["bottom"].set_linewidth(3.5)
ov.text(1139, 409, "Relative expression", fontsize=21, rotation=90, ha="center", va="center")
for t, x, ty, x0, x1, ly in zip(c_pvals, [1347, 1576.5, 1803], [416, 409, 412], [1292, 1524, 1750], [1399, 1631, 1857.5], [437.7, 430, 430]):
    ov.text(x, ty, t, fontsize=21, ha="center", va="center")
    ov.plot([x0, x1], [ly, ly], color="black", lw=2.4, solid_capstyle="butt")

ov.add_patch(Rectangle((1369.5, 844.5), 15, 15, facecolor="#F2F2F2", edgecolor="black", lw=2.2))
ov.add_patch(Rectangle((1554.5, 844.5), 15, 15, facecolor="#FFC000", edgecolor="black", lw=2.2))
ov.text(1395.5, 852, "WT (N=6)", fontsize=21, style="italic", ha="left", va="center")
ov.text(1578, 852, "Hom (N=6)", fontsize=21, style="italic", ha="left", va="center")

# guide diagram above panel C
ov.plot([1205, 1903], [120, 120], color="black", lw=5.8, solid_capstyle="butt")
ov.plot([1544, 1544], [107, 133], color="black", lw=3.6, solid_capstyle="butt")
ov.text(1536, 86, "rs6723013", fontsize=17.5, ha="center", va="center")
ov.plot([1340, 1727], [139, 139], color="black", lw=4.3, solid_capstyle="butt")
ov.add_patch(Polygon([[1322.6, 139], [1344, 128], [1344, 150]], color="black", lw=0))
ov.add_patch(Polygon([[1745, 139], [1723, 128], [1723, 150]], color="black", lw=0))
ov.text(1545, 165, "177bp", fontsize=18.5, ha="center", va="center")
for sx in [1328, 1350, 1715, 1736]:
    ov.plot([sx - 5, sx + 3], [116, 96], color="black", lw=1.4)
    ov.plot([sx + 5, sx - 3], [116, 96], color="black", lw=1.4)
    ov.plot([sx - 4, sx + 4], [92, 92], ls="none", marker="o", ms=4.5, mfc="white", mec="#666666", mew=1)

# ---- panels D, E
navy = "#0A0A70"
edge = "#333333"


def locus(x0, legend_x, lab_x, rate_x, xlabel_x, navy_x, navy_y, layers):
    x1 = x0 + 708.4
    rate = px_axes(x0, 1032, x1, 1368)
    rate.plot(recomb_x, recomb_y, color="#3636FF", lw=1.5)
    rate.set_xlim(217.412, 218.411)
    rate.set_ylim(-4.9, 104.9)
    rate.set_xticks([])
    rate.yaxis.tick_right()
    rate.set_yticks(rate_ticks)
    rate.tick_params(axis="y", colors="#3636FF", length=7, width=1, labelsize=10.5, pad=6)
    for s in rate.spines.values():
        s.set_color("#A0A0A0")
        s.set_linewidth(1.5)

    ax = px_axes(x0, 1032, x1, 1368, zorder=3)
    ax.patch.set_alpha(0)
    xs = [cx for cx, ys in zip(cloud_x, cloud_y) for _ in ys]
    ys_all = [v for ys in cloud_y for v in ys]
    xs += [cx for cx, ys in zip(cloud2_x, cloud2_y) for _ in ys]
    ys_all += [v for ys in cloud2_y for v in ys]
    xs += cloud_hi_x + list(navy_x)
    ys_all += cloud_hi_y + list(navy_y)
    ax.scatter(xs, ys_all, s=72, color=navy, edgecolor=edge, lw=1.0, zorder=2)
    for lx, ly, c, marker in layers:
        ax.scatter(lx, ly, s=72 if marker == "o" else 48, color=c, edgecolor=edge, lw=1.0, marker=marker, zorder=3)
    ax.set_xlim(217.412, 218.411)
    ax.set_ylim(-0.49, 10.49)
    ax.set_xticks([])
    ax.set_yticks(range(0, 11, 2))
    ax.tick_params(axis="y", length=7, width=1, color="#707070", labelcolor="#555555", labelsize=10.5, pad=5)
    for s in ax.spines.values():
        s.set_visible(False)

    genes = px_axes(x0, 1387, x1, 1469)
    for a, b, row in gene_lines:
        genes.plot([a, b], [row, row], color="#1414A0", lw=1.1)
    genes.vlines(gene_exons_x, np.array(gene_exons_row) - 0.11, np.array(gene_exons_row) + 0.11, color="#1414A0", lw=1.2)
    genes.plot([217.5367, 217.5441], [3, 3], color="#0A0A80", lw=4, solid_capstyle="butt")
    for t, gx, row, ha in zip(gene_names, gene_name_x, gene_name_row, gene_name_ha):
        genes.text(gx, row - 0.32, t, fontsize=9.4, style="italic", ha=ha, va="center", color="#222222")
    genes.set_xlim(217.412, 218.411)
    genes.set_ylim(3.25, 0.32)
    genes.set_yticks([])
    genes.set_xticks(mb_ticks)
    genes.set_xticklabels(mb_labels)
    genes.tick_params(axis="x", length=9, width=1, color="#707070", labelcolor="#555555", labelsize=11.2, pad=11)
    for s in genes.spines.values():
        s.set_color("#A8A8A8")
        s.set_linewidth(1.5)

    ov.text(lab_x, 1210, "-log10(P-value)", fontsize=20.5, rotation=90, ha="center", va="center")
    ov.text(rate_x, 1210, "Recombination\nrate (cM/Mb)", fontsize=19.5, color="#3636FF", rotation=270, ha="center", va="center", linespacing=0.95)
    ov.text(xlabel_x, 1539, "Position on chr2 (Mb)", fontsize=21, ha="center", va="center")

    ov.add_patch(Rectangle((legend_x, 1038), 60, 139, facecolor="white", edgecolor="#707070", lw=1.2))
    ov.text(legend_x + 30, 1053, r"$\mathrm{r^2}$", fontsize=12, color="#444444", ha="center", va="center")
    for k, c in enumerate(["#FF0000", "#FFA500", "#00FF00", "#87CEFA", "#000080"]):
        ov.add_patch(Rectangle((legend_x + 9, 1063 + k * 21.4), 14, 21.4, facecolor=c, edgecolor="#555555", lw=0.8))
    for k, t in enumerate(["0.8", "0.6", "0.4", "0.2"]):
        yy = 1063 + (k + 1) * 21.4
        ov.plot([legend_x + 23, legend_x + 31], [yy, yy], color="#666666", lw=0.9)
        ov.text(legend_x + 35, yy, t, fontsize=8.8, color="#444444", ha="left", va="center")


locus(131.6, 773, 68, 914, 483, d_navy_x, d_navy_y,
      [(d_blue_x, d_blue_y, "#87CEFA", "o"), (d_green_x, d_green_y, "#00E800", "o"),
       (d_orange_x, d_orange_y, "#FFA500", "o"), (d_red_x, d_red_y, "#F00000", "o"),
       (d_lead_x, d_lead_y, "#7A1FA2", "D")])
locus(1044.5, 1053, 988, 1837, 1406, e_navy_x, e_navy_y,
      [(e_gray_x, e_gray_y, "#A0A0A0", "o"), (e_blue_x, e_blue_y, "#87CEFA", "o"),
       (e_green_x, e_green_y, "#00E800", "o"), (e_orange_x, e_orange_y, "#FFA500", "o"),
       (e_red_x, e_red_y, "#F00000", "o")])

ov.text(319, 1087, "rs6723013", fontsize=21, ha="center", va="center")
ov.text(485, 1087, "rs6723013", fontsize=10.3, ha="center", va="center")
ov.plot([390, 486], [1084, 1101], color="black", lw=2.2)

fig.savefig("out.png", dpi=100, facecolor="white")
